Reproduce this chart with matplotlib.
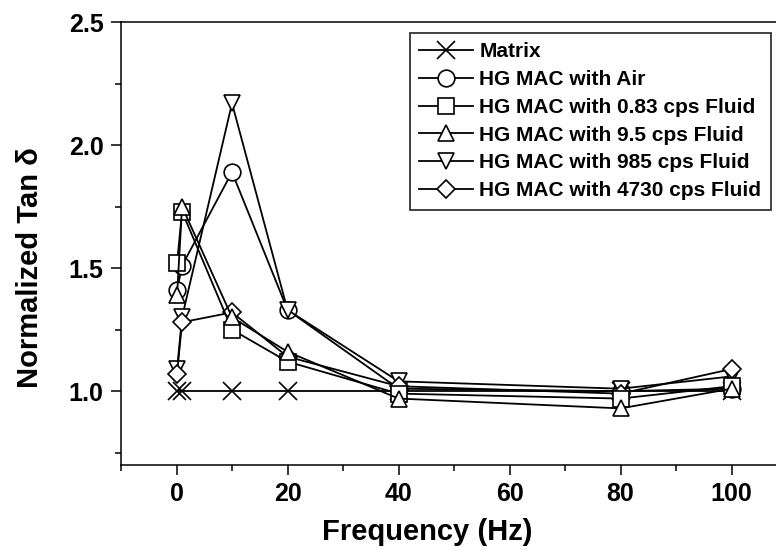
import matplotlib
matplotlib.use("Agg")
import matplotlib.pyplot as plt
from matplotlib.ticker import MultipleLocator, FormatStrFormatter

plt.rcParams['font.family'] = ['Liberation Sans', 'DejaVu Sans']
plt.rcParams['font.weight'] = 'bold'

# Frequencies (Hz)
freq = [0.1, 1, 10, 20, 40, 80, 100]

# Normalized tan delta for each sample
matrix = [1.00, 1.00, 1.00, 1.00, 1.00, 1.00, 1.00]
air = [1.41, 1.51, 1.89, 1.33, 1.01, 1.00, 1.01]
fluid_083 = [1.52, 1.73, 1.25, 1.12, 0.99, 0.97, 1.02]
fluid_95 = [1.39, 1.75, 1.30, 1.16, 0.97, 0.93, 1.01]
fluid_985 = [1.09, 1.30, 2.17, 1.33, 1.04, 1.01, 1.06]
fluid_4730 = [1.07, 1.28, 1.32, 1.14, 1.02, 0.99, 1.09]

labels = ["Matrix", "HG MAC with Air", "HG MAC with 0.83 cps Fluid",
          "HG MAC with 9.5 cps Fluid", "HG MAC with 985 cps Fluid",
          "HG MAC with 4730 cps Fluid"]
series = [matrix, air, fluid_083, fluid_95, fluid_985, fluid_4730]
markers = ['x', 'o', 's', '^', 'v', 'D']
msizes = [13, 12, 11, 12, 12, 9.5]
# stacking order of the curves (back to front)
draw_order = [0, 1, 4, 5, 2, 3]

fig = plt.figure(figsize=(7.76, 5.55), dpi=100)
ax = fig.add_axes([121 / 776, 90 / 555, 655 / 776, 443 / 555])

handles = [None] * len(series)
for z, i in enumerate(draw_order):
    line, = ax.plot(freq, series[i], color='black', lw=1.3, marker=markers[i],
                    markersize=msizes[i], markerfacecolor='white',
                    markeredgecolor='black', markeredgewidth=1.2,
                    label=labels[i], zorder=2 + z * 0.1)
    handles[i] = line

ax.set_xlim(-10, 108)
ax.set_ylim(0.7, 2.5)

ax.xaxis.set_major_locator(MultipleLocator(20))
ax.xaxis.set_minor_locator(MultipleLocator(10))
ax.yaxis.set_major_locator(MultipleLocator(0.5))
ax.yaxis.set_minor_locator(MultipleLocator(0.25))
ax.yaxis.set_major_formatter(FormatStrFormatter('%.1f'))

ax.tick_params(which='major', direction='out', length=7.5, width=1.1,
               labelsize=18, pad=5)
ax.tick_params(which='minor', direction='out', length=4, width=1.1)
ax.tick_params(top=False, right=False)

for side in ['left', 'bottom', 'top']:
    ax.spines[side].set_linewidth(1.1)
ax.spines['right'].set_visible(False)

ax.set_xlabel("Frequency (Hz)", fontsize=21, fontweight='bold')
ax.xaxis.set_label_coords((427 - 121) / 655, (465 - 532) / 443)
ax.xaxis.label.set_va('center')
ax.set_ylabel("Normalized Tan δ", fontsize=21, fontweight='bold')
ax.yaxis.set_label_coords((30 - 121) / 655, (465 - 268) / 443)
ax.yaxis.label.set_va('center')

leg = ax.legend(handles=handles, loc='upper right',
                bbox_to_anchor=(0.992, 0.975),
                borderaxespad=0, frameon=True, fancybox=False,
                edgecolor='black', handlelength=2.6, handletextpad=0.3,
                labelspacing=0.42, borderpad=0.45,
                prop={'weight': 'bold', 'size': 15})
leg.get_frame().set_linewidth(1.3)
leg.set_zorder(10)

fig.savefig("out.png", dpi=100)
